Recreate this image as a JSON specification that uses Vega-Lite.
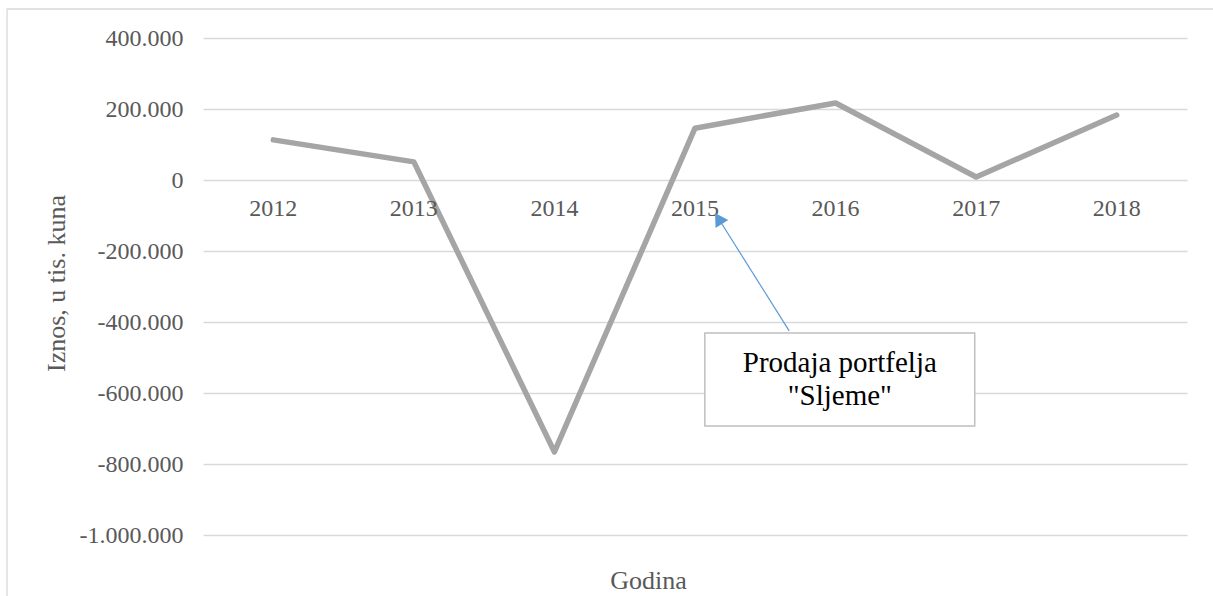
{
  "$schema": "https://vega.github.io/schema/vega-lite/v6.json",
  "autosize": {"type": "none"},
  "padding": {"left": 203, "top": 38, "right": 26, "bottom": 61},
  "width": 984,
  "height": 497,
  "background": "white",
  "config": {
    "font": "Liberation Serif",
    "view": {"stroke": null}
  },
  "datasets": {
    "series": [
      {"year": 2012, "iznos": 113000},
      {"year": 2013, "iznos": 51000},
      {"year": 2014, "iznos": -766000},
      {"year": 2015, "iznos": 146000},
      {"year": 2016, "iznos": 217000},
      {"year": 2017, "iznos": 8500},
      {"year": 2018, "iznos": 183000}
    ],
    "note": [{"label": "Prodaja portfelja \"Sljeme\""}]
  },
  "layer": [
    {
      "data": {"name": "note"},
      "mark": {"type": "rect", "fill": null, "stroke": "#D9D9D9", "strokeWidth": 1.3},
      "encoding": {
        "x": {"datum": 2010.106, "type": "quantitative",
          "scale": {"domain": [2011.5, 2018.5], "nice": false, "zero": false},
          "axis": {"labels": false, "ticks": false, "domain": false, "grid": false,
            "title": "Godina", "titleFont": "Liberation Serif", "titleFontSize": 26, "titleFontWeight": "normal",
            "titleColor": "#595959", "titleX": 445, "titleY": 53, "titleBaseline": "alphabetic", "titleAlign": "center"}},
        "x2": {"datum": 2018.9},
        "y": {"datum": 481690, "type": "quantitative",
          "scale": {"domain": [-1000000, 400000], "nice": false, "zero": false},
          "axis": {"values": [-1000000, -800000, -600000, -400000, -200000, 0, 200000, 400000],
            "labelExpr": "replace(replace(format(datum.value, ','), regexp(',', 'g'), '.'), '−', '-')",
            "domain": false, "ticks": false, "labelPadding": 20, "grid": true,
            "labelFont": "Liberation Serif", "labelFontSize": 24, "labelColor": "#595959",
            "gridColor": "#D9D9D9", "gridWidth": 1.3,
            "title": "Iznos, u tis. kuna", "titleFont": "Liberation Serif", "titleFontSize": 26, "titleFontWeight": "normal",
            "titleColor": "#595959", "titleX": -139, "titleY": 245, "titleBaseline": "alphabetic", "titleAlign": "center", "titleAngle": -90}},
        "y2": {"datum": -1250000}
      }
    },
    {
      "data": {"name": "series"},
      "mark": {"type": "line", "color": "#A5A5A5", "strokeWidth": 5.5, "strokeCap": "round", "strokeJoin": "round"},
      "encoding": {
        "x": {"field": "year", "type": "quantitative"},
        "y": {"field": "iznos", "type": "quantitative"}
      }
    },
    {
      "data": {"name": "series"},
      "mark": {"type": "text", "font": "Liberation Serif", "fontSize": 24, "color": "#595959", "align": "center", "baseline": "alphabetic", "dy": 36},
      "encoding": {
        "x": {"field": "year", "type": "quantitative"},
        "y": {"datum": 0, "type": "quantitative"},
        "text": {"field": "year", "type": "nominal"}
      }
    },
    {
      "data": {"name": "note"},
      "mark": {"type": "rule", "color": "#5B9BD5", "strokeWidth": 1.2},
      "encoding": {
        "x": {"datum": 2015.67, "type": "quantitative"},
        "y": {"datum": -425000, "type": "quantitative"},
        "x2": {"datum": 2015.167},
        "y2": {"datum": -108500}
      }
    },
    {
      "data": {"name": "note"},
      "mark": {"type": "point", "shape": "triangle-up", "filled": true, "color": "#5B9BD5", "size": 225, "angle": -32, "opacity": 1},
      "encoding": {
        "x": {"datum": 2015.167, "type": "quantitative"},
        "y": {"datum": -108500, "type": "quantitative"}
      }
    },
    {
      "data": {"name": "note"},
      "mark": {"type": "rect", "fill": "white", "stroke": "#BFBFBF", "strokeWidth": 1.5},
      "encoding": {
        "x": {"datum": 2015.07, "type": "quantitative"},
        "x2": {"datum": 2016.99},
        "y": {"datum": -431000, "type": "quantitative"},
        "y2": {"datum": -693000}
      }
    },
    {
      "data": {"name": "note"},
      "mark": {"type": "text", "font": "Liberation Serif", "fontSize": 29, "color": "black", "align": "center", "baseline": "alphabetic", "lineHeight": 33,
        "text": ["Prodaja portfelja", "\"Sljeme\""]},
      "encoding": {
        "x": {"datum": 2016.03, "type": "quantitative"},
        "y": {"datum": -541000, "type": "quantitative"}
      }
    }
  ]
}
